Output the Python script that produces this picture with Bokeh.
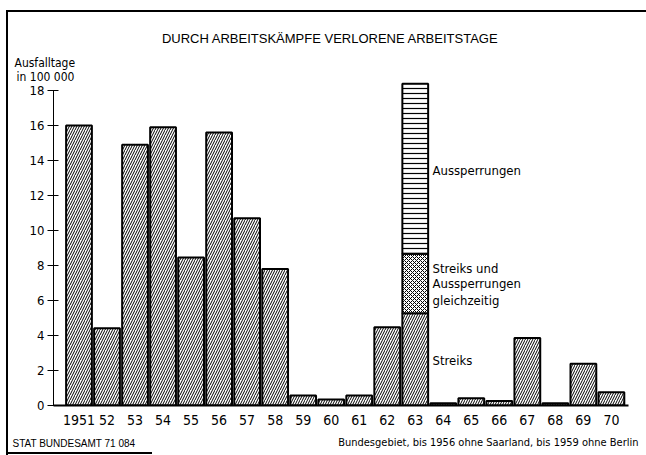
from bokeh.plotting import figure
from bokeh.models import FixedTicker, Label, Range1d
from bokeh.embed import file_html
from bokeh.resources import INLINE

# ---- data ----
years = ["1951", "52", "53", "54", "55", "56", "57", "58", "59", "60",
         "61", "62", "63", "64", "65", "66", "67", "68", "69", "70"]
# lost working days in 100 000 (strikes)
streiks = [16.0, 4.42, 14.9, 15.9, 8.46, 15.6, 10.7, 7.8, 0.57, 0.34,
           0.57, 4.47, 5.27, 0.13, 0.42, 0.25, 3.85, 0.13, 2.38, 0.76]
# 1963 only: strikes and lockouts at the same time, lockouts
gleichzeitig_1963 = 3.4
aussperrungen_1963 = 9.71
y_ticks = [0, 2, 4, 6, 8, 10, 12, 14, 16, 18]

title_text = "DURCH ARBEITSKÄMPFE VERLORENE ARBEITSTAGE"
NARROW = "DejaVu Sans Condensed"

xs = list(range(len(years)))
i63 = years.index("63")

p = figure(width=646, height=455, output_backend="svg", toolbar_location=None,
           x_range=Range1d(-0.91, 19.61), y_range=Range1d(0, 18.57),
           min_border_left=53, min_border_right=18, min_border_top=80,
           min_border_bottom=50)
p.outline_line_color = None
p.xgrid.visible = False
p.ygrid.visible = False
p.background_fill_color = None
p.border_fill_color = None
# outer frame of the printed figure (left and top rule, short bottom rule)
p.styles = {
    "background": (
        "linear-gradient(#000, #000) 7px 10px / 639px 2px no-repeat, "
        "linear-gradient(#000, #000) 6px 10px / 2px 445px no-repeat, "
        "linear-gradient(#000, #000) 6px 452px / 146px 2px no-repeat, "
        "#fff"
    )
}

bar_w = 0.92
# strike bars
p.vbar(x=xs, top=streiks, width=bar_w, fill_color="white",
       hatch_pattern="/", hatch_scale=5, hatch_weight=1, hatch_color="black",
       line_color="black", line_width=2)
# 1963 stacked parts
b1 = streiks[i63]
b2 = b1 + gleichzeitig_1963
b3 = b2 + aussperrungen_1963
p.vbar(x=[xs[i63]], bottom=[b1], top=[b2], width=bar_w, fill_color="white",
       hatch_pattern="x", hatch_scale=4, hatch_weight=1, hatch_color="black",
       line_color="black", line_width=2)
p.vbar(x=[xs[i63]], bottom=[b2], top=[b3], width=bar_w, fill_color="white",
       hatch_pattern="-", hatch_scale=5, hatch_weight=1.2, hatch_color="black",
       line_color="black", line_width=2)

# axes
xa = p.xaxis[0]
xa.ticker = FixedTicker(ticks=xs)
xa.major_label_overrides = {i: y for i, y in enumerate(years)}
xa.major_tick_in = 0
xa.major_tick_out = 0
xa.minor_tick_line_color = None
xa.axis_line_width = 2
xa.major_label_standoff = 9
xa.major_label_text_font = NARROW
xa.major_label_text_font_size = "14px"
xa.major_label_text_color = "black"

ya = p.yaxis[0]
ya.ticker = FixedTicker(ticks=y_ticks)
ya.bounds = (0, 18)
ya.major_tick_in = 5
ya.major_tick_out = 6
ya.minor_tick_line_color = None
ya.axis_line_width = 1
ya.major_label_standoff = 3
ya.major_label_text_font = NARROW
ya.major_label_text_font_size = "13px"
ya.major_label_text_color = "black"


def lab(x, y, t, size, font=NARROW, align="left", place=None):
    l = Label(x=x, y=y, x_units="screen", y_units="screen", text=t,
              text_font=font, text_font_size=size, text_align=align,
              text_baseline="middle", text_color="black")
    if place is None:
        p.add_layout(l)
    else:
        p.add_layout(l, place)


# texts inside the plot frame (relative to frame)
lab(379, 235, "Aussperrungen", "13px")
lab(379, 137, "Streiks und", "13px")
lab(379, 122, "Aussperrungen", "13px")
lab(379, 105, "gleichzeitig", "13px")
lab(379, 45, "Streiks", "13px")

# texts outside the frame, each in its own stacked panel above the frame
lab(277, 42, title_text, "13px", font="Liberation Sans", align="center", place="above")
lab(-39, 3, "Ausfalltage", "12px", place="above")
lab(-37, -25, "in 100 000", "12px", place="above")
lab(-41, -406, "STAT BUNDESAMT 71 084", "10px", font="Liberation Sans", place="above")
lab(585, -416, "Bundesgebiet, bis 1956 ohne Saarland, bis 1959 ohne Berlin",
    "11px", align="right", place="above")

open("out.html", "w").write(file_html(p, INLINE))
